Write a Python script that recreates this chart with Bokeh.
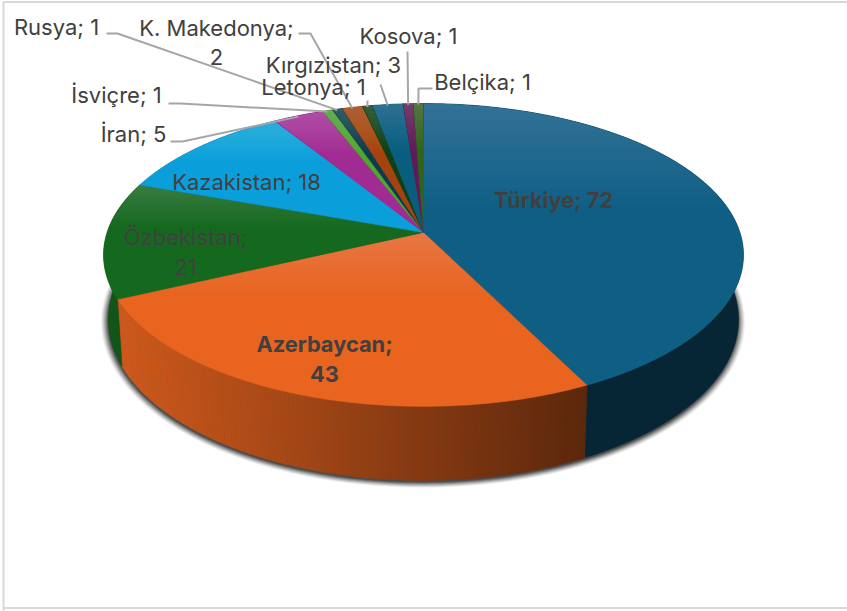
import math
from bokeh.plotting import figure
from bokeh.embed import file_html
from bokeh.resources import INLINE
from bokeh.core.properties import value

names = ["Türkiye", "Azerbaycan", "Özbekistan", "Kazakistan", "İran", "İsviçre", "Rusya",
         "K. Makedonya", "Letonya", "Kırgızistan", "Kosova", "Belçika"]
values = [72, 43, 21, 18, 5, 1, 1, 2, 1, 3, 1, 1]
colors = ["#0F5F85", "#E8641F", "#15691E", "#0A9FDB", "#A02B93", "#4EA72E", "#0D3A4E",
          "#A5430F", "#0F4015", "#095E80", "#601A58", "#2F641B"]

W, H = 847, 611
CX, CY = 423.0, 232.0
K, A, B = 0.1486, 316.4, 148.1
SX_BOTTOM, SY_BOTTOM, DEPTH = 0.985, 1.063, 63.0
FONT = "Inter"
FS = "22px"
TEXT = "#404040"

p = figure(width=W, height=H, x_range=(0, W), y_range=(H, 0), output_backend="svg",
           toolbar_location=None, min_border=0, outline_line_color=None,
           margin=(0, 0, 0, 0), background_fill_color="white", border_fill_color="white")
p.axis.visible = False
p.grid.visible = False


def top(theta):
    s, c = math.sin(theta), math.cos(theta)
    y = -c
    w = 1 - K * y
    return CX + A * s / w, CY + B * y / w


def bottom(theta):
    x, y = top(theta)
    return CX + (x - CX) * SX_BOTTOM, CY + (y - CY) * SY_BOTTOM + DEPTH


def hexrgb(h):
    return tuple(int(h[i:i + 2], 16) for i in (1, 3, 5))


def shade(h, f):
    return "#%02x%02x%02x" % tuple(max(0, min(255, int(v * f))) for v in hexrgb(h))


def clip_above(pts, ylim):
    out = []
    for i in range(len(pts)):
        a, b = pts[i], pts[(i + 1) % len(pts)]
        ia, ib = a[1] <= ylim, b[1] <= ylim
        if ia:
            out.append(a)
        if ia != ib:
            t = (ylim - a[1]) / (b[1] - a[1])
            out.append((a[0] + t * (b[0] - a[0]), ylim))
    return out


total = sum(values)
edges = [0.0]
for v in values:
    edges.append(edges[-1] + v / total * 2 * math.pi)
mids = [(edges[i] + edges[i + 1]) / 2 for i in range(len(values))]

# soft shadow beneath the lower rim
ring = [bottom(2 * math.pi * i / 240) for i in range(240)]
for grow, alpha in [(7, 0.05), (6, 0.07), (5, 0.09), (4, 0.11), (3, 0.14), (2, 0.17), (1, 0.2), (0, 0.25)]:
    xs = [CX - 0.5 + (x - CX) * (1 + grow / 320) for x, y in ring]
    ys = [CY + 63 + (y - CY - 63) * (1 + grow / 240) + 2 for x, y in ring]
    p.patch(xs, ys, fill_color="#000000", fill_alpha=alpha, line_color=None)


def side_factor(i, x):
    t = (x - 117) / (585 - 117)
    return 0.90 - 0.50 * max(0, min(1, t))


# rim: plain slices as one face, the orange one as a run of shaded strips
for i, col in enumerate(colors):
    a0, a1 = edges[i], edges[i + 1]
    if i == 1:
        n = max(2, int((a1 - a0) / 0.012))
        for j in range(n):
            t0 = a0 + (a1 - a0) * j / n
            t1 = a0 + (a1 - a0) * (j + 1) / n
            q = [top(t0), top(t1), bottom(t1), bottom(t0)]
            c = shade(col, side_factor(i, q[0][0]))
            p.patch([u[0] for u in q], [u[1] for u in q], fill_color=c, line_color=c, line_width=0.6)
    else:
        n = 120
        arc = [a0 + (a1 - a0) * j / n for j in range(n + 1)]
        q = [top(t) for t in arc] + [bottom(t) for t in reversed(arc)]
        c = shade(col, 0.40 if i == 0 else 0.82)
        p.patch([u[0] for u in q], [u[1] for u in q], fill_color=c, line_color=c, line_width=0.4)

# top face, each slice with a lighter gradient at its upper edge
for i, col in enumerate(colors):
    a0, a1 = edges[i], edges[i + 1]
    n = max(2, int((a1 - a0) / 0.01))
    poly = [(CX, CY)] + [top(a0 + (a1 - a0) * j / n) for j in range(n + 1)]
    p.patch([u[0] for u in poly], [u[1] for u in poly], fill_color=col, line_color=col, line_width=0.4)
    ymin = min(u[1] for u in poly)
    ymax = max(u[1] for u in poly)
    bands = 18
    for k in range(1, bands + 1):
        ylim = ymin + (ymax - ymin) * 0.36 * k / bands
        part = clip_above(poly, ylim)
        if len(part) >= 3:
            p.patch([u[0] for u in part], [u[1] for u in part], fill_color="#ffffff",
                    fill_alpha=0.0125, line_color=None)

# leader lines: start beside the label, elbow, then the slice's edge
leaders = {
    "Rusya": [(106, 33), (117, 33)],
    "K. Makedonya": [(298, 33), (310, 33)],
    "İsviçre": [(168, 103), (180, 103)],
    "İran": [(170, 141), (182, 141)],
    "Letonya": [(367, 100)],
    "Kırgızistan": [(380, 84)],
    "Kosova": [(407, 51)],
    "Belçika": [(432, 88), (418, 88)],
}
for name, pts in leaders.items():
    ex, ey = top(mids[names.index(name)])
    xs = [u[0] for u in pts] + [ex]
    ys = [u[1] for u in pts] + [ey + 1]
    p.line(xs, ys, line_color="#A6A6A6", line_width=2)

# frame
p.line([3, 3, W + 2], [H, 1.5, 1.5], line_color="#D9D9D9", line_width=2)
p.line([3, W + 2], [607.5, 607.5], line_color="#D9D9D9", line_width=2)

# labels: name -> (centre x, centre y of first line, line step, bold)
label_pos = {
    "Türkiye": (553, 199, 0, True),
    "Azerbaycan": (324, 343, 30, True),
    "Özbekistan": (185, 236, 30, False),
    "Kazakistan": (246, 181, 0, False),
    "İran": (133, 133, 0, False),
    "İsviçre": (116, 94, 0, False),
    "Rusya": (56, 26, 0, False),
    "K. Makedonya": (216, 27, 29, False),
    "Kırgızistan": (333, 64, 0, False),
    "Letonya": (313, 86, 0, False),
    "Kosova": (408, 35, 0, False),
    "Belçika": (482, 81, 0, False),
}
for name, v in zip(names, values):
    x, y, step, bold = label_pos[name]
    if step:
        lines, ys_ = [name + ";", str(v)], [y, y + step]
    else:
        lines, ys_ = ["%s; %d" % (name, v)], [y]
    p.text([x] * len(lines), ys_, text=lines, text_font=value(FONT),
           text_font_size="21.8px" if bold else FS,
           text_color=TEXT, text_align="center", text_baseline="middle",
           text_font_style="bold" if bold else "normal")

open("out.html", "w").write(file_html(p, INLINE))
